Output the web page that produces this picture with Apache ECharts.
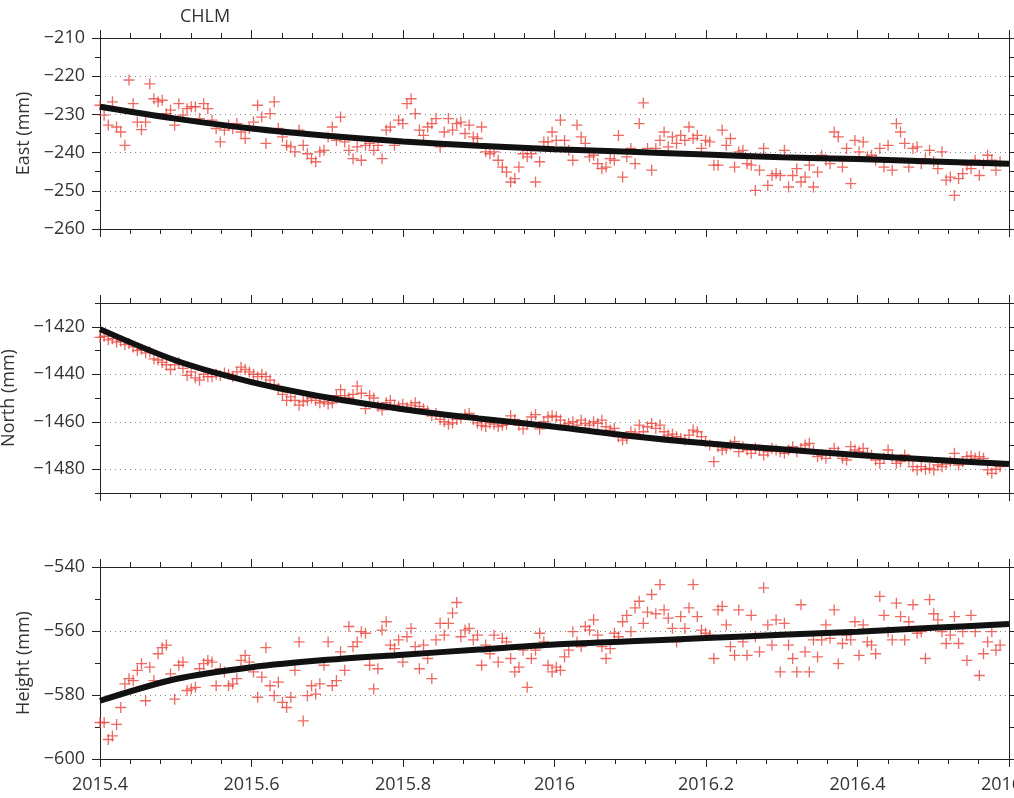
<!DOCTYPE html>
<html>
<head>
<meta charset="utf-8">
<title>CHLM</title>
<script src="https://cdn.jsdelivr.net/npm/echarts@6/dist/echarts.min.js"></script>
<style>
  html, body { margin: 0; padding: 0; background: #fff; }
  #chart { width: 1014px; height: 798px; }
</style>
</head>
<body>
<div id="chart"></div>
<script>
// daily solutions, every second day, starting 2015.4
var startYear = 2015.4;
var stepYears = 2 / 365.25;

var eastVals = [
  -227.6, -230.2, -232.8, -226.7, -233.3, -234.6, -238.1, -221.0, -227.2, -232.0,
  -234.0, -232.0, -222.0, -225.9, -226.7, -226.3, -229.8, -228.9, -232.8, -227.2,
  -230.2, -228.5, -228.0, -228.0, -231.1, -227.2, -228.5, -231.5, -233.7, -237.2,
  -234.1, -232.8, -233.7, -232.4, -234.6, -236.3, -233.7, -232.0, -227.6, -230.7,
  -237.6, -229.8, -226.7, -233.7, -235.9, -238.1, -238.5, -239.8, -234.1, -238.1,
  -240.3, -241.6, -242.4, -239.8, -239.4, -235.9, -233.3, -236.8, -230.7, -237.2,
  -239.4, -241.6, -238.5, -242.0, -238.1, -237.6, -239.4, -238.1, -241.6, -234.1,
  -233.3, -238.1, -231.5, -232.4, -227.2, -225.9, -229.8, -234.1, -235.5, -233.3,
  -232.4, -231.1, -238.5, -234.6, -231.1, -234.1, -232.4, -232.0, -235.0, -232.8,
  -235.9, -236.3, -233.3, -239.8, -240.3, -239.8, -242.0, -243.8, -245.1, -247.7,
  -246.8, -243.8, -240.3, -241.1, -240.3, -247.7, -242.4, -237.2, -237.2, -234.6,
  -236.8, -231.5, -236.8, -239.4, -242.0, -232.8, -235.9, -237.6, -241.1, -240.7,
  -242.9, -244.2, -243.8, -241.6, -242.0, -235.5, -246.4, -241.1, -238.9, -242.9,
  -232.4, -227.0, -238.9, -244.6, -238.9, -236.8, -234.6, -238.5, -235.9, -237.6,
  -235.5, -236.8, -233.3, -236.3, -235.5, -238.9, -236.8, -237.2, -243.3, -243.3,
  -234.1, -238.1, -236.3, -243.8, -239.8, -239.4, -242.9, -243.3, -249.9, -244.6,
  -238.9, -248.6, -246.0, -245.5, -246.0, -239.4, -249.0, -246.0, -244.2, -247.7,
  -246.4, -243.3, -249.0, -245.1, -240.7, -242.0, -242.9, -234.6, -235.9, -243.8,
  -238.9, -248.1, -236.8, -239.8, -237.2, -241.1, -240.7, -242.0, -238.9, -243.8,
  -238.1, -244.6, -232.4, -234.6, -237.6, -243.8, -238.9, -238.5, -242.9, -241.6,
  -239.4, -242.4, -244.2, -239.8, -247.2, -246.4, -251.2, -246.8, -245.5, -243.3,
  -244.2, -242.0, -246.0, -242.9, -240.7, -242.0, -244.6, -242.4
];

var northVals = [
  -1424.5, -1424.0, -1425.5, -1425.0, -1426.5, -1426.0, -1427.5, -1427.0, -1428.5, -1430.0,
  -1429.5, -1431.0, -1430.5, -1433.5, -1434.0, -1435.0, -1436.0, -1438.0, -1436.0, -1435.0,
  -1437.5, -1440.5, -1439.0, -1441.5, -1442.5, -1440.0, -1441.0, -1441.0, -1440.0, -1440.5,
  -1439.5, -1440.0, -1441.0, -1439.0, -1437.0, -1438.0, -1439.0, -1440.0, -1441.0, -1440.0,
  -1441.0, -1442.5, -1444.5, -1446.0, -1448.5, -1451.0, -1449.5, -1451.0, -1453.0, -1451.5,
  -1451.0, -1450.0, -1451.0, -1452.0, -1451.5, -1452.5, -1452.0, -1449.0, -1446.5, -1449.0,
  -1450.0, -1448.5, -1445.0, -1448.0, -1454.5, -1449.0, -1450.0, -1453.5, -1455.0, -1452.0,
  -1451.0, -1453.0, -1453.5, -1452.5, -1454.0, -1453.0, -1452.0, -1453.5, -1454.5, -1455.5,
  -1457.5, -1456.5, -1459.0, -1460.0, -1461.0, -1460.5, -1459.0, -1458.5, -1457.0, -1456.5,
  -1459.0, -1460.5, -1461.5, -1462.0, -1460.5, -1461.0, -1462.0, -1461.5, -1461.0, -1457.5,
  -1459.0, -1461.5, -1463.0, -1461.0, -1458.0, -1457.0, -1463.0, -1460.0, -1458.0, -1457.5,
  -1457.9, -1459.3, -1461.4, -1460.7, -1460.0, -1461.4, -1459.3, -1460.7, -1461.4, -1460.0,
  -1460.7, -1459.3, -1462.1, -1463.5, -1462.8, -1466.3, -1467.7, -1467.0, -1464.2, -1464.9,
  -1461.4, -1464.2, -1462.1, -1460.7, -1462.8, -1461.4, -1464.2, -1465.6, -1465.2, -1466.3,
  -1467.0, -1467.7, -1465.6, -1463.5, -1464.2, -1466.3, -1468.4, -1469.8, -1476.8, -1470.5,
  -1471.9, -1471.2, -1469.8, -1468.4, -1472.6, -1470.5, -1471.9, -1473.3, -1471.2, -1471.9,
  -1474.0, -1472.6, -1471.2, -1471.9, -1472.6, -1473.3, -1471.9, -1470.5, -1472.6, -1471.2,
  -1469.8, -1469.1, -1471.9, -1474.7, -1474.0, -1475.4, -1473.3, -1471.2, -1472.6, -1475.4,
  -1476.1, -1470.5, -1471.9, -1472.6, -1471.2, -1473.3, -1474.0, -1476.1, -1477.5, -1475.4,
  -1471.9, -1474.7, -1477.5, -1476.8, -1474.0, -1476.1, -1478.9, -1480.3, -1478.9, -1480.0,
  -1479.6, -1480.3, -1478.2, -1478.9, -1477.8, -1476.8, -1473.3, -1478.2, -1476.8, -1474.7,
  -1474.4, -1475.4, -1474.7, -1475.4, -1480.3, -1481.7, -1480.0, -1478.9
];

var heightVals = [
  -588.6, -588.6, -593.9, -592.8, -589.2, -583.9, -576.5, -574.9, -575.5, -572.3,
  -570.2, -581.8, -571.3, -575.5, -567.1, -565.2, -564.4, -573.4, -581.3, -570.7,
  -569.7, -578.6, -578.1, -577.6, -571.8, -570.2, -569.2, -569.7, -577.1, -571.8,
  -572.8, -577.1, -576.5, -574.9, -569.2, -567.6, -569.7, -572.8, -580.7, -574.4,
  -565.2, -577.1, -580.2, -576.0, -582.3, -583.9, -580.7, -572.3, -563.4, -588.1,
  -580.2, -577.1, -579.7, -576.5, -570.7, -563.4, -577.1, -575.5, -566.5, -572.3,
  -558.6, -564.9, -563.4, -560.2, -560.7, -570.7, -578.1, -571.8, -559.7, -557.1,
  -564.4, -565.5, -562.8, -569.7, -561.8, -559.2, -564.9, -571.8, -564.4, -568.6,
  -574.9, -562.8, -557.6, -561.3, -557.6, -554.4, -551.1, -561.8, -559.7, -559.2,
  -562.8, -561.3, -570.7, -564.4, -567.1, -561.3, -569.7, -562.3, -563.4, -568.6,
  -572.8, -571.3, -566.0, -577.6, -568.6, -566.0, -560.7, -563.4, -570.7, -572.8,
  -571.3, -572.3, -568.1, -566.0, -560.2, -563.4, -564.9, -558.6, -559.7, -556.5,
  -561.3, -564.9, -568.6, -565.5, -560.7, -561.8, -557.1, -555.1, -560.2, -552.8,
  -550.7, -557.6, -554.1, -548.6, -554.6, -545.5, -553.4, -556.0, -559.2, -563.4,
  -555.5, -559.2, -552.8, -545.5, -555.5, -559.7, -560.7, -561.3, -568.6, -553.4,
  -552.3, -558.1, -564.9, -567.6, -553.4, -563.4, -567.6, -555.1, -561.8, -566.5,
  -546.5, -558.1, -564.4, -556.5, -572.8, -557.6, -564.4, -568.6, -572.8, -551.8,
  -566.5, -572.8, -562.8, -568.1, -562.8, -558.1, -562.3, -553.4, -570.2, -563.9,
  -561.3, -562.8, -557.1, -567.6, -558.1, -563.4, -564.4, -567.1, -549.2, -555.1,
  -560.2, -562.8, -551.3, -555.5, -562.8, -557.1, -551.8, -560.7, -560.2, -568.6,
  -550.2, -554.6, -556.5, -560.2, -563.9, -561.3, -555.5, -563.9, -560.2, -569.2,
  -555.1, -560.2, -573.9, -567.1, -563.4, -560.2, -566.0, -564.4
];

// fitted model curve
var fitYears  = [2015.4, 2015.5, 2015.6, 2015.7, 2015.8, 2015.9, 2016.0, 2016.1, 2016.2, 2016.3, 2016.4, 2016.5, 2016.6];
var fitEast   = [-228.0, -231.1, -233.7, -235.6, -237.1, -238.2, -239.1, -239.8, -240.5, -241.2, -241.7, -242.3, -242.9];
var fitNorth  = [-1421.0, -1434.2, -1443.3, -1449.8, -1454.7, -1458.6, -1462.1, -1466.0, -1469.1, -1471.6, -1474.0, -1476.0, -1477.8];
var fitHeight = [-581.8, -575.0, -571.3, -569.0, -567.4, -565.8, -564.2, -563.2, -562.2, -561.2, -560.2, -559.0, -557.8];

// y ticks
var eastMajor   = [-260, -250, -240, -230, -220, -210];
var eastMinor   = [-255, -245, -235, -225, -215];
var northMajor  = [-1480, -1460, -1440, -1420];
var northMinor  = [-1490, -1470, -1450, -1430, -1410];
var heightMajor = [-600, -580, -560, -540];
var heightMinor = [-590, -570, -550];

var font = 'Open Sans';
var textColor = '#333';
var axisColor = '#222';
var plusColor = '#e8453c';
var plusPath = 'path://M4.4,0H5.6V4.4H10V5.6H5.6V10H4.4V5.6H0V4.4H4.4Z';

function toPairs(vals) {
  return vals.map(function (v, i) { return [startYear + i * stepYears, v]; });
}
function toFit(vals) {
  return vals.map(function (v, i) { return [fitYears[i], v]; });
}
function minusFmt(v) {
  return v < 0 ? '\u2212' + Math.abs(v) : String(v);
}

function xAxes(gi, showLabels) {
  var res = [];
  ['bottom', 'top'].forEach(function (pos) {
    res.push({
      gridIndex: gi,
      type: 'value',
      position: pos,
      min: 2015.4,
      max: 2016.6,
      interval: 0.2,
      axisLine: { onZero: false, lineStyle: { color: axisColor, width: 1 } },
      axisTick: { length: 8, lineStyle: { color: axisColor } },
      minorTick: { show: true, splitNumber: 5, length: 5, lineStyle: { color: axisColor } },
      splitLine: { show: false },
      axisLabel: {
        show: showLabels && pos === 'bottom',
        margin: 17,
        fontSize: 18,
        fontFamily: font,
        color: textColor,
        formatter: function (v) { return String(Math.round(v * 10) / 10); }
      }
    });
  });
  return res;
}

function yAxes(gi, min, max, major, minor, name, gap) {
  var base = {
    gridIndex: gi,
    type: 'value',
    min: min,
    max: max,
    axisLine: { show: true, onZero: false, lineStyle: { color: axisColor, width: 1 } },
    splitLine: { show: false },
    axisLabel: { show: false }
  };
  var left = Object.assign({}, base, {
    position: 'left',
    name: name,
    nameLocation: 'middle',
    nameGap: gap,
    nameTextStyle: { fontSize: 18, fontFamily: font, color: textColor },
    axisTick: { length: 8, customValues: major, lineStyle: { color: axisColor } },
    axisLabel: {
      customValues: major,
      margin: 15,
      fontSize: 18,
      fontFamily: font,
      color: textColor,
      formatter: minusFmt
    },
    splitLine: { show: true, lineStyle: { color: '#8a8a8a', width: 1, type: [1, 4] } }
  });
  var leftMinor = Object.assign({}, base, {
    position: 'left',
    axisLine: { show: false, onZero: false },
    axisTick: { length: 5, customValues: minor, lineStyle: { color: axisColor } }
  });
  var right = Object.assign({}, base, {
    position: 'right',
    axisTick: { length: 8, customValues: major, lineStyle: { color: axisColor } }
  });
  var rightMinor = Object.assign({}, base, {
    position: 'right',
    axisLine: { show: false, onZero: false },
    axisTick: { length: 5, customValues: minor, lineStyle: { color: axisColor } }
  });
  return [left, leftMinor, right, rightMinor];
}

function plusSeries(gi, vals) {
  return {
    type: 'scatter',
    xAxisIndex: gi * 2,
    yAxisIndex: gi * 4,
    symbol: plusPath,
    symbolSize: 11,
    itemStyle: { color: plusColor },
    silent: true,
    data: toPairs(vals)
  };
}
function fitSeries(gi, vals) {
  return {
    type: 'line',
    xAxisIndex: gi * 2,
    yAxisIndex: gi * 4,
    showSymbol: false,
    smooth: 0.3,
    lineStyle: { color: '#111', width: 6 },
    silent: true,
    z: 5,
    data: toFit(vals)
  };
}

var myChart = echarts.init(document.getElementById('chart'));
var option = {
  animation: false,
  backgroundColor: '#fff',
  title: {
    text: 'CHLM',
    left: 175,
    top: 3,
    textStyle: { fontSize: 18, fontWeight: 'normal', fontFamily: font, color: textColor }
  },
  grid: [
    { left: 100, right: 5, top: 38, height: 191, containLabel: false, outerBoundsMode: 'none' },
    { left: 100, right: 5, top: 303, height: 190, containLabel: false, outerBoundsMode: 'none' },
    { left: 100, right: 5, top: 567, height: 192, containLabel: false, outerBoundsMode: 'none' }
  ],
  xAxis: [].concat(xAxes(0, false), xAxes(1, false), xAxes(2, true)),
  yAxis: [].concat(
    yAxes(0, -260, -210, eastMajor, eastMinor, 'East (mm)', 67),
    yAxes(1, -1490, -1410, northMajor, northMinor, 'North (mm)', 82),
    yAxes(2, -600, -540, heightMajor, heightMinor, 'Height (mm)', 67)
  ),
  series: [
    plusSeries(0, eastVals), fitSeries(0, fitEast),
    plusSeries(1, northVals), fitSeries(1, fitNorth),
    plusSeries(2, heightVals), fitSeries(2, fitHeight)
  ]
};
option && myChart.setOption(option);
</script>
</body>
</html>
